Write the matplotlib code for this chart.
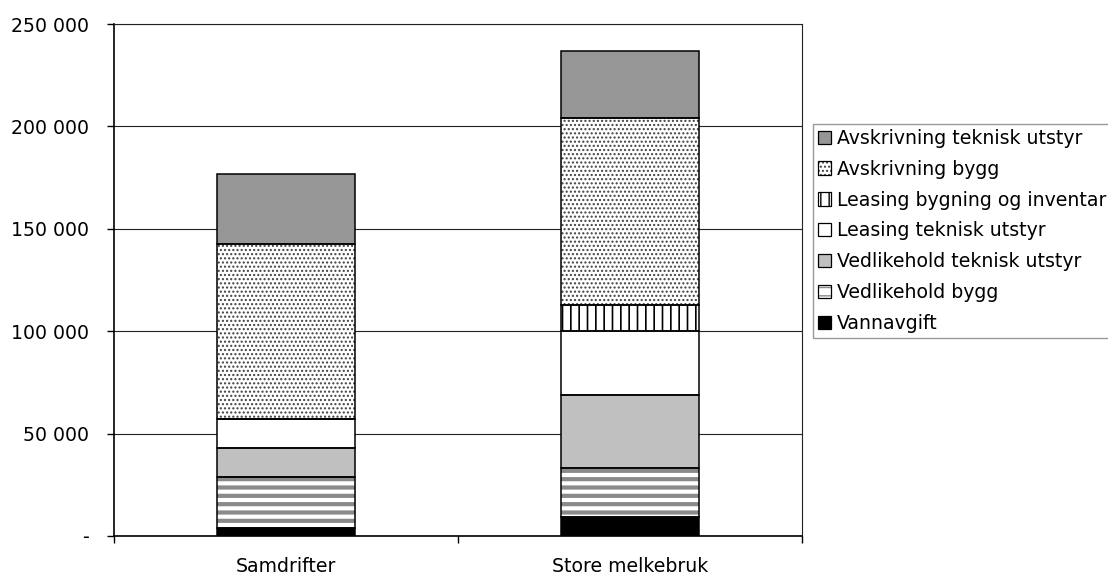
import matplotlib
matplotlib.use('Agg')
import matplotlib.pyplot as plt
from matplotlib.patches import Patch
from matplotlib.legend_handler import HandlerTuple
from matplotlib.ticker import FuncFormatter
import numpy as np

categories = ['Samdrifter', 'Store melkebruk']

# series, bottom to top
vannavgift = [3900, 9100]
vedlikehold_bygg = [25100, 24300]
vedlikehold_teknisk = [14000, 35500]
leasing_teknisk = [14300, 31400]
leasing_bygning = [0, 12300]
avskrivning_bygg = [85100, 91400]
avskrivning_teknisk = [34400, 32700]

labels = ['Vannavgift', 'Vedlikehold bygg', 'Vedlikehold teknisk utstyr',
          'Leasing teknisk utstyr', 'Leasing bygning og inventar',
          'Avskrivning bygg', 'Avskrivning teknisk utstyr']
series = [vannavgift, vedlikehold_bygg, vedlikehold_teknisk, leasing_teknisk,
          leasing_bygning, avskrivning_bygg, avskrivning_teknisk]

# (facecolor, hatch colour, hatch, hatch linewidth)
styles = [
    ('black', 'black', None, 1.0),
    ('white', '#8a8a8a', '--', 3.0),
    ('#c0c0c0', '#c0c0c0', None, 1.0),
    ('white', 'white', None, 1.0),
    ('white', 'black', '||', 1.2),
    ('white', '#404040', '....', 1.0),
    ('#969696', '#969696', None, 1.0),
]

plt.rcParams['font.family'] = 'DejaVu Sans'
fs = 13.6

fig = plt.figure(figsize=(11.08, 5.77), dpi=100)
ax = fig.add_axes([0.1029, 0.0711, 0.6209, 0.8873])

x = np.arange(len(categories))
w = 0.4
bottom = np.zeros(len(categories))
handles = []
for vals, (fc, hc, h, hlw), lab in zip(series, styles, labels):
    with plt.rc_context({'hatch.linewidth': hlw}):
        bars = ax.bar(x, vals, w, bottom=bottom, color=fc, edgecolor=hc,
                      hatch=h, linewidth=0, zorder=3)
        hp = Patch(facecolor=fc, edgecolor=hc, hatch=h, linewidth=0)
    for b in list(bars) + [hp]:
        if hasattr(b, 'set_hatch_linewidth'):
            b.set_hatch_linewidth(hlw)
    ax.bar(x, vals, w, bottom=bottom, fill=False, edgecolor='black',
           linewidth=1.1, zorder=4)
    op = Patch(facecolor='none', edgecolor='black', linewidth=0.9)
    handles.append((hp, op))
    bottom += np.array(vals)

ax.set_xlim(-0.5, 1.5)
ax.set_ylim(0, 250000)
ax.set_yticks(np.arange(0, 250001, 50000))
ax.yaxis.set_major_formatter(FuncFormatter(
    lambda v, p: '-' if v == 0 else f'{v:,.0f}'.replace(',', ' ')))
ax.yaxis.grid(True, color='#222222', linewidth=0.8, zorder=0)
ax.tick_params(axis='y', labelsize=fs, length=5, pad=13, width=1)

ax.set_xticks([-0.5, 0.5, 1.5])
ax.set_xticklabels([])
ax.set_xticks(x, minor=True)
ax.set_xticklabels(categories, minor=True, fontsize=fs)
ax.tick_params(axis='x', which='major', length=5, width=1)
ax.tick_params(axis='x', which='minor', length=0, pad=15)

for s in ['left', 'bottom']:
    ax.spines[s].set_linewidth(1.2)
for s in ['top', 'right']:
    ax.spines[s].set_linewidth(0.8)
    ax.spines[s].set_color('#222222')

leg = fig.legend(handles[::-1], labels[::-1],
                 handler_map={tuple: HandlerTuple(ndivide=1)},
                 loc='upper left', bbox_to_anchor=(0.7338, 0.785),
                 fontsize=fs, frameon=True, fancybox=False, borderpad=0.25,
                 labelspacing=0.63, handlelength=0.7, handleheight=0.7,
                 handletextpad=0.3, borderaxespad=0)
leg.get_frame().set_edgecolor('#808080')
leg.get_frame().set_linewidth(1)

fig.savefig('out.png', dpi=100)
